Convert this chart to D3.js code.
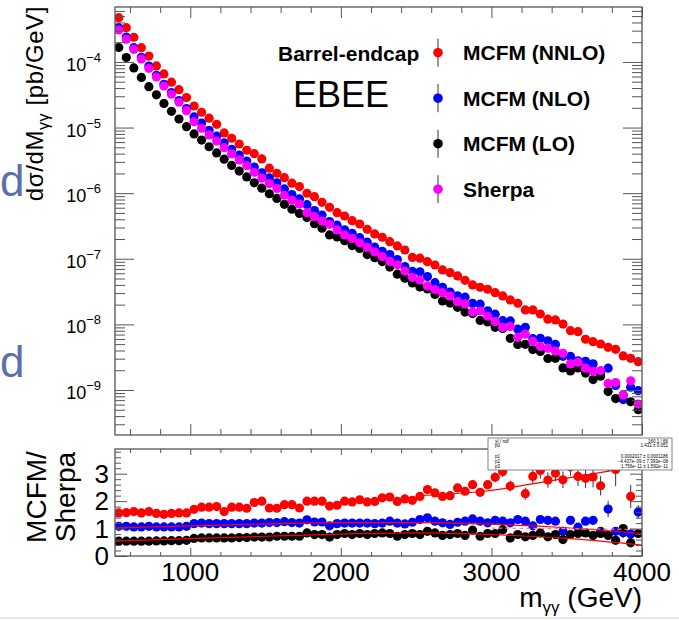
<!DOCTYPE html>
<html>
<head>
<meta charset="utf-8">
<script src="https://cdn.jsdelivr.net/npm/d3@7"></script>
<style>
  body { margin: 0; background: #ffffff; }
  svg { display: block; font-family: "Liberation Sans", Arial, Helvetica, sans-serif; }
</style>
</head>
<body>
<div class="chart"></div>
<script>
// bin centres in GeV (50 GeV bins from 500 to 4000)
var binCentres = [525, 575, 625, 675, 725, 775, 825, 875, 925, 975,
  1025, 1075, 1125, 1175, 1225, 1275, 1325, 1375, 1425, 1475,
  1525, 1575, 1625, 1675, 1725, 1775, 1825, 1875, 1925, 1975,
  2025, 2075, 2125, 2175, 2225, 2275, 2325, 2375, 2425, 2475,
  2525, 2575, 2625, 2675, 2725, 2775, 2825, 2875, 2925, 2975,
  3025, 3075, 3125, 3175, 3225, 3275, 3325, 3375, 3425, 3475,
  3525, 3575, 3625, 3675, 3725, 3775, 3825, 3875, 3925, 3975];

// dsigma/dM [pb/GeV]
var xsecNNLO = [4.73e-4, 3.33e-4, 2.38e-4, 1.65e-4, 1.23e-4, 8.7e-5, 6.56e-5, 4.91e-5, 3.78e-5, 2.86e-5,
  2.13e-5, 1.71e-5, 1.39e-5, 1.12e-5, 8.28e-6, 6.87e-6, 5.62e-6, 4.51e-6, 4.0e-6, 3.32e-6,
  2.4e-6, 2.01e-6, 1.72e-6, 1.42e-6, 1.26e-6, 9.97e-7, 8.85e-7, 7.26e-7, 6.09e-7, 5.05e-7,
  4.49e-7, 3.81e-7, 3.39e-7, 2.82e-7, 2.39e-7, 2.13e-7, 1.82e-7, 1.57e-7, 1.36e-7, 1.05e-7,
  1.02e-7, 9.04e-8, 8.04e-8, 6.75e-8, 6.14e-8, 5.47e-8, 4.7e-8, 3.99e-8, 3.68e-8, 3.43e-8,
  3.04e-8, 2.71e-8, 2.36e-8, 2.1e-8, 1.66e-8, 1.66e-8, 1.44e-8, 1.2e-8, 1.17e-8, 1.01e-8,
  8.02e-9, 7.74e-9, 5.93e-9, 5.45e-9, 5.02e-9, 4.47e-9, 4.17e-9, 3.3e-9, 3.04e-9, 2.7e-9];
var xsecNLO = [3.33e-4, 2.4e-4, 1.65e-4, 1.18e-4, 8.64e-5, 6.25e-5, 4.56e-5, 3.41e-5, 2.58e-5, 1.95e-5,
  1.45e-5, 1.17e-5, 9.1e-6, 7.38e-6, 5.83e-6, 4.67e-6, 3.79e-6, 3.09e-6, 2.5e-6, 2.04e-6,
  1.71e-6, 1.44e-6, 1.16e-6, 9.52e-7, 8.16e-7, 6.67e-7, 5.43e-7, 4.65e-7, 3.69e-7, 3.25e-7,
  2.77e-7, 2.45e-7, 2.1e-7, 1.79e-7, 1.5e-7, 1.3e-7, 1.16e-7, 9.72e-8, 7.6e-8, 6.42e-8,
  6.32e-8, 5.35e-8, 4.32e-8, 3.68e-8, 3.11e-8, 2.73e-8, 2.6e-8, 2.09e-8, 2.03e-8, 1.61e-8,
  1.43e-8, 1.14e-8, 1.13e-8, 8.45e-9, 9.02e-9, 6.05e-9, 6.12e-9, 5.62e-9, 4.95e-9, 3.26e-9,
  3.25e-9, 2.78e-9, 2.73e-9, 2.5e-9, 1.78e-9, 2.15e-9, 1.17e-9, 7.14e-10, 1.1e-9, 9.76e-10];
var xsecLO = [1.66e-4, 1.17e-4, 8.1e-5, 5.8e-5, 4.2e-5, 3.15e-5, 2.33e-5, 1.77e-5, 1.35e-5, 1.03e-5,
  8.0e-6, 6.45e-6, 5.1e-6, 4.1e-6, 3.3e-6, 2.65e-6, 2.17e-6, 1.77e-6, 1.44e-6, 1.19e-6,
  9.8e-7, 8.3e-7, 6.75e-7, 5.7e-7, 4.9e-7, 4.24e-7, 3.42e-7, 2.93e-7, 2.31e-7, 2.15e-7,
  1.89e-7, 1.59e-7, 1.44e-7, 1.16e-7, 1.04e-7, 9.07e-8, 7.46e-8, 5.83e-8, 5.07e-8, 4.28e-8,
  3.71e-8, 3.47e-8, 2.86e-8, 2.28e-8, 2.11e-8, 1.82e-8, 1.54e-8, 1.46e-8, 1.15e-8, 1.09e-8,
  9.02e-9, 8.64e-9, 6.14e-9, 4.95e-9, 4.97e-9, 4.13e-9, 3.86e-9, 3.02e-9, 3.04e-9, 2.17e-9,
  1.95e-9, 2.17e-9, 1.81e-9, 1.44e-9, 1.62e-9, 9.45e-10, 7.41e-10, 8.4e-10, 6.62e-10, 5.0e-10];
var xsecSherpa = [3.08e-4, 2.22e-4, 1.56e-4, 1.11e-4, 8.0e-5, 5.9e-5, 4.3e-5, 3.22e-5, 2.43e-5, 1.81e-5,
  1.23e-5, 9.76e-6, 7.71e-6, 6.25e-6, 4.94e-6, 3.96e-6, 3.21e-6, 2.62e-6, 2.08e-6, 1.7e-6,
  1.4e-6, 1.18e-6, 9.3e-7, 7.8e-7, 6.8e-7, 5.05e-7, 4.38e-7, 3.75e-7, 3.35e-7, 2.75e-7,
  2.31e-7, 2.04e-7, 1.75e-7, 1.49e-7, 1.27e-7, 1.08e-7, 9.1e-8, 8.1e-8, 6.5e-8, 5.22e-8,
  4.75e-8, 3.85e-8, 3.4e-8, 3.04e-8, 2.7e-8, 2.22e-8, 2.05e-8, 1.55e-8, 1.6e-8, 1.33e-8,
  1.1e-8, 9.0e-9, 9.3e-9, 6.35e-9, 7.1e-9, 5.5e-9, 4.6e-9, 4.32e-9, 3.9e-9, 3.62e-9,
  2.5e-9, 2.65e-9, 2.15e-9, 1.92e-9, 1.98e-9, 1.26e-9, 1.3e-9, 8.4e-10, 1.38e-9, 6.1e-10];

// MCFM / Sherpa ratios and their errors
var ratioNNLO = [1.57, 1.58, 1.62, 1.57, 1.62, 1.55, 1.52, 1.55, 1.57, 1.57,
  1.7, 1.78, 1.78, 1.8, 1.62, 1.78, 1.78, 1.74, 1.95, 2.0,
  1.75, 1.74, 1.87, 1.87, 1.75, 2.0, 2.0, 2.0, 1.82, 1.85,
  2.0, 1.97, 2.05, 1.97, 1.99, 2.12, 2.15, 1.99, 2.08, 2.03,
  2.17, 2.42, 2.3, 2.17, 2.2, 2.48, 2.36, 2.6, 2.32, 2.6,
  2.87, 3.08, 2.55, 3.4, 2.27, 2.9, 3.12, 2.77, 3.02, 2.78,
  3.25, 2.9, 2.83, 2.88, 2.56, 3.5, 3.15, 3.6, 2.17, 4.5];
var ratioNLO = [1.08, 1.08, 1.06, 1.06, 1.08, 1.06, 1.06, 1.06, 1.06, 1.08,
  1.18, 1.2, 1.18, 1.18, 1.18, 1.18, 1.18, 1.18, 1.2, 1.2,
  1.22, 1.22, 1.25, 1.22, 1.2, 1.32, 1.24, 1.24, 1.1, 1.18,
  1.2, 1.2, 1.2, 1.2, 1.18, 1.2, 1.27, 1.2, 1.17, 1.23,
  1.33, 1.39, 1.27, 1.21, 1.15, 1.23, 1.27, 1.35, 1.27, 1.21,
  1.3, 1.27, 1.21, 1.33, 1.27, 1.1, 1.33, 1.3, 1.27, 0.9,
  1.3, 1.05, 1.27, 1.3, 0.9, 1.71, 0.9, 0.85, 0.8, 1.6];
var ratioLO = [0.54, 0.54, 0.54, 0.54, 0.54, 0.55, 0.55, 0.56, 0.56, 0.57,
  0.64, 0.66, 0.66, 0.66, 0.66, 0.66, 0.67, 0.67, 0.69, 0.69,
  0.69, 0.72, 0.72, 0.72, 0.72, 0.84, 0.78, 0.78, 0.69, 0.78,
  0.82, 0.78, 0.82, 0.78, 0.82, 0.84, 0.82, 0.72, 0.78, 0.82,
  0.78, 0.9, 0.84, 0.75, 0.78, 0.82, 0.75, 0.94, 0.72, 0.82,
  0.82, 0.96, 0.66, 0.78, 0.7, 0.75, 0.84, 0.7, 0.78, 0.6,
  0.78, 0.82, 0.84, 0.75, 0.82, 0.75, 0.57, 1.0, 0.48, 0.82];
var errNNLO = [0.03, 0.03, 0.03, 0.03, 0.03, 0.03, 0.03, 0.03, 0.03, 0.03,
  0.03, 0.03, 0.03, 0.03, 0.03, 0.03, 0.03, 0.03, 0.03, 0.03,
  0.04, 0.04, 0.04, 0.04, 0.04, 0.04, 0.04, 0.04, 0.04, 0.04,
  0.05, 0.05, 0.05, 0.05, 0.05, 0.05, 0.05, 0.05, 0.05, 0.05,
  0.08, 0.08, 0.08, 0.1, 0.1, 0.12, 0.12, 0.15, 0.15, 0.15,
  0.18, 0.2, 0.2, 0.25, 0.22, 0.28, 0.3, 0.28, 0.3, 0.3,
  0.32, 0.35, 0.35, 0.38, 0.35, 0.42, 0.6, 0.45, 0.42, 0.5];
var errNLO = [0.02, 0.02, 0.02, 0.02, 0.02, 0.02, 0.02, 0.02, 0.02, 0.02,
  0.02, 0.02, 0.02, 0.02, 0.02, 0.02, 0.02, 0.02, 0.02, 0.02,
  0.02, 0.02, 0.02, 0.02, 0.02, 0.02, 0.02, 0.02, 0.02, 0.02,
  0.02, 0.02, 0.02, 0.02, 0.02, 0.02, 0.02, 0.02, 0.02, 0.02,
  0.04, 0.04, 0.04, 0.04, 0.04, 0.04, 0.04, 0.04, 0.04, 0.04,
  0.06, 0.06, 0.06, 0.06, 0.06, 0.06, 0.06, 0.06, 0.06, 0.06,
  0.08, 0.1, 0.1, 0.1, 0.12, 0.3, 0.15, 0.2, 0.2, 0.25];
var errLO = [0.02, 0.02, 0.02, 0.02, 0.02, 0.02, 0.02, 0.02, 0.02, 0.02,
  0.02, 0.02, 0.02, 0.02, 0.02, 0.02, 0.02, 0.02, 0.02, 0.02,
  0.02, 0.02, 0.02, 0.02, 0.02, 0.02, 0.02, 0.02, 0.02, 0.02,
  0.02, 0.02, 0.02, 0.02, 0.02, 0.02, 0.02, 0.02, 0.02, 0.02,
  0.03, 0.03, 0.03, 0.03, 0.03, 0.03, 0.03, 0.03, 0.03, 0.03,
  0.05, 0.05, 0.05, 0.05, 0.05, 0.05, 0.05, 0.05, 0.05, 0.05,
  0.06, 0.06, 0.07, 0.07, 0.08, 0.1, 0.1, 0.12, 0.12, 0.14];

// fitted curves in the ratio pad, [mass, ratio]
var fitNNLO = [[2500, 2.2], [2950, 2.36], [3400, 2.75], [3900, 3.2]];
var fitNLO = [[500, 1.02], [1000, 1.1], [1500, 1.17], [2000, 1.22], [2500, 1.22], [3000, 1.16], [3500, 1.03], [4000, 0.82]];
var fitLO = [[500, 0.54], [1000, 0.63], [1500, 0.72], [2000, 0.8], [2500, 0.84], [3000, 0.78], [3500, 0.64], [4000, 0.4]];
var fitDashed = [[3000, 1.02], [4000, 0.97]];

var legendNames = ["MCFM (NNLO)", "MCFM (NLO)", "MCFM (LO)", "Sherpa"];
var legendColors = ["#ff0000", "#0000ff", "#000000", "#ff00ff"];

var statsRows = [["\u03c7\u00b2 / ndf", "160.1 / 66"], ["p0", "1.431 \u00b1 0.051"], ["p1", "0.0002017 \u00b1 0.0001186"],
  ["p2", "\u22124.437e\u221209 \u00b1 7.393e\u221208"], ["p3", "1.756e\u221211 \u00b1 1.592e\u221211"]];

var svgWidth = 679;
var svgHeight = 620;
var frameColor = "#555555";

var left = 115, right = 642;
var topPad = {top: 7, bottom: 435};
var ratioPad = {top: 449, bottom: 556};

var svg = d3.select(".chart")
  .append("svg")
  .attr("width", svgWidth)
  .attr("height", svgHeight);

var xScale = d3.scaleLinear().domain([500, 4000]).range([left, right]);
var yTop = d3.scaleLog().domain([2.06e-10, 6.88e-4]).range([topPad.bottom, topPad.top]);
var yRatio = d3.scaleLinear().domain([0, 3.9]).range([ratioPad.bottom, ratioPad.top]);

var defs = svg.append("defs");
defs.append("clipPath").attr("id", "clipTop").append("rect")
  .attr("x", left).attr("y", topPad.top).attr("width", right - left).attr("height", topPad.bottom - topPad.top);
defs.append("clipPath").attr("id", "clipRatio").append("rect")
  .attr("x", left).attr("y", ratioPad.top).attr("width", right - left).attr("height", ratioPad.bottom - ratioPad.top);

// slide leftovers at the left edge and bottom
svg.selectAll(".slideD")
  .data([196, 377])
  .enter()
  .append("text")
  .attr("x", 0)
  .attr("y", d => d)
  .attr("fill", "#5b6fad")
  .style("font-size", "44px")
  .text("d");
svg.append("line")
  .attr("x1", 0).attr("x2", svgWidth).attr("y1", 618).attr("y2", 618)
  .attr("stroke", "#e6e6e6").attr("stroke-width", 2);

/* Top pad: spectra */
var topSeries = [
  {values: xsecNNLO, color: legendColors[0]},
  {values: xsecNLO, color: legendColors[1]},
  {values: xsecLO, color: legendColors[2]},
  {values: xsecSherpa, color: legendColors[3]}
];
var topGroup = svg.append("g").attr("clip-path", "url(#clipTop)");
topSeries.forEach(function(s) {
  topGroup.append("g")
    .selectAll("circle")
    .data(s.values)
    .enter()
    .append("circle")
    .attr("cx", (d, i) => xScale(binCentres[i]))
    .attr("cy", d => yTop(d))
    .attr("r", 4.6)
    .attr("fill", s.color);
});

/* Ratio pad */
var ratioSeries = [
  {values: ratioNNLO, errors: errNNLO, color: legendColors[0]},
  {values: ratioNLO, errors: errNLO, color: legendColors[1]},
  {values: ratioLO, errors: errLO, color: legendColors[2]}
];
var ratioGroup = svg.append("g").attr("clip-path", "url(#clipRatio)");
ratioSeries.forEach(function(s) {
  var g = ratioGroup.append("g");
  g.selectAll("line")
    .data(s.values)
    .enter()
    .append("line")
    .attr("x1", (d, i) => xScale(binCentres[i]))
    .attr("x2", (d, i) => xScale(binCentres[i]))
    .attr("y1", (d, i) => yRatio(d - s.errors[i]))
    .attr("y2", (d, i) => yRatio(d + s.errors[i]))
    .attr("stroke", "#333333")
    .attr("stroke-width", 1);
  g.selectAll("circle")
    .data(s.values)
    .enter()
    .append("circle")
    .attr("cx", (d, i) => xScale(binCentres[i]))
    .attr("cy", d => yRatio(d))
    .attr("r", 4.6)
    .attr("fill", s.color);
});

var fitLine = d3.line()
  .x(d => xScale(d[0]))
  .y(d => yRatio(d[1]))
  .curve(d3.curveMonotoneX);
[fitNNLO, fitNLO, fitLO].forEach(function(f) {
  ratioGroup.append("path")
    .attr("d", fitLine(f))
    .attr("fill", "none")
    .attr("stroke", "#ff0000")
    .attr("stroke-width", 1.2);
});
ratioGroup.append("path")
  .attr("d", fitLine(fitDashed))
  .attr("fill", "none")
  .attr("stroke", "#ff8080")
  .attr("stroke-width", 1.2)
  .attr("stroke-dasharray", "4,3");

/* Ticks */
function tickAxis(axisFn, scale, values, size, transform) {
  var g = svg.append("g")
    .attr("transform", transform)
    .call(axisFn(scale).tickValues(values).tickSize(size).tickFormat(""));
  g.select(".domain").remove();
  g.selectAll("line").attr("stroke", frameColor).attr("stroke-width", 1);
  return g;
}

var logMajor = [1e-4, 1e-5, 1e-6, 1e-7, 1e-8, 1e-9];
var logMinor = [];
for (var e = -10; e <= -4; e++) {
  for (var m = 2; m <= 9; m++) {
    var v = m * Math.pow(10, e);
    if (v > yTop.domain()[0] && v < yTop.domain()[1]) logMinor.push(v);
  }
}
var xMajor = [1000, 2000, 3000, 4000];
var xMinor = [];
for (var xv = 600; xv < 4000; xv += 200) {
  if (xv % 1000 !== 0) xMinor.push(xv);
}
var ratioMajor = [0, 1, 2, 3];
var ratioMinor = [];
for (var k = 1; k <= 19; k++) {
  if (k % 5 !== 0) ratioMinor.push(k * 0.2);
}

tickAxis(d3.axisLeft, yTop, logMajor, -19, `translate(${left},0)`);
tickAxis(d3.axisLeft, yTop, logMinor, -10, `translate(${left},0)`);
tickAxis(d3.axisRight, yTop, logMajor, -19, `translate(${right},0)`);
tickAxis(d3.axisRight, yTop, logMinor, -10, `translate(${right},0)`);
tickAxis(d3.axisBottom, xScale, xMajor, -11, `translate(0,${topPad.bottom})`);
tickAxis(d3.axisBottom, xScale, xMinor, -6, `translate(0,${topPad.bottom})`);
tickAxis(d3.axisTop, xScale, xMajor, -11, `translate(0,${topPad.top})`);
tickAxis(d3.axisTop, xScale, xMinor, -6, `translate(0,${topPad.top})`);

tickAxis(d3.axisLeft, yRatio, ratioMajor, -12, `translate(${left},0)`);
tickAxis(d3.axisLeft, yRatio, ratioMinor, -6, `translate(${left},0)`);
tickAxis(d3.axisRight, yRatio, ratioMajor, -12, `translate(${right},0)`);
tickAxis(d3.axisRight, yRatio, ratioMinor, -6, `translate(${right},0)`);
tickAxis(d3.axisBottom, xScale, xMajor, -8, `translate(0,${ratioPad.bottom})`);
tickAxis(d3.axisBottom, xScale, xMinor, -4, `translate(0,${ratioPad.bottom})`);
tickAxis(d3.axisTop, xScale, xMajor, -6, `translate(0,${ratioPad.top})`);
tickAxis(d3.axisTop, xScale, xMinor, -4, `translate(0,${ratioPad.top})`);

// frames
[topPad, ratioPad].forEach(function(p) {
  svg.append("rect")
    .attr("x", left).attr("y", p.top)
    .attr("width", right - left).attr("height", p.bottom - p.top)
    .attr("fill", "none")
    .attr("stroke", frameColor)
    .attr("stroke-width", 1.3);
});

/* Tick labels */
var logLabels = svg.selectAll(".logLabel")
  .data(logMajor)
  .enter()
  .append("text")
  .attr("class", "logLabel")
  .attr("x", 101)
  .attr("y", d => yTop(d) + 9)
  .attr("text-anchor", "end")
  .attr("fill", "#000");
logLabels.append("tspan").style("font-size", "18px").text("10");
logLabels.append("tspan")
  .attr("dy", -9)
  .style("font-size", "13px")
  .text(d => "\u2212" + Math.round(-Math.log10(d)));

svg.selectAll(".ratioLabel")
  .data(ratioMajor)
  .enter()
  .append("text")
  .attr("x", 109)
  .attr("y", d => yRatio(d) + 9)
  .attr("text-anchor", "end")
  .style("font-size", "26px")
  .text(d => d);

svg.selectAll(".xLabel")
  .data(xMajor)
  .enter()
  .append("text")
  .attr("x", d => xScale(d))
  .attr("y", 581)
  .attr("text-anchor", "middle")
  .style("font-size", "26px")
  .text(d => d);

/* Axis titles */
var yTitle = svg.append("text")
  .attr("transform", "translate(43, 6) rotate(-90)")
  .attr("text-anchor", "end")
  .style("font-size", "24px")
  .style("letter-spacing", "0.6px");
yTitle.append("tspan").text("d\u03c3/dM");
yTitle.append("tspan").attr("dy", 6).style("font-size", "16px").text("\u03b3\u03b3");
yTitle.append("tspan").attr("dy", -6).text(" [pb/GeV]");

var rTitle = svg.append("g").attr("transform", "translate(0, 497)");
rTitle.append("text")
  .attr("transform", "translate(46, 0) rotate(-90)")
  .attr("text-anchor", "middle")
  .style("font-size", "28px")
  .text("MCFM/");
rTitle.append("text")
  .attr("transform", "translate(75, 0) rotate(-90)")
  .attr("text-anchor", "middle")
  .style("font-size", "28px")
  .text("Sherpa");

var xTitle = svg.append("text")
  .attr("x", right)
  .attr("y", 607)
  .attr("text-anchor", "end")
  .style("font-size", "28px");
xTitle.append("tspan").text("m");
xTitle.append("tspan").attr("dy", 6).style("font-size", "17px").text("\u03b3\u03b3");
xTitle.append("tspan").attr("dy", -6).text(" (GeV)");

/* Legend */
svg.append("text")
  .attr("x", 278).attr("y", 61)
  .style("font-size", "21px").style("font-weight", "bold")
  .text("Barrel-endcap");
svg.append("text")
  .attr("x", 293).attr("y", 107)
  .style("font-size", "36px")
  .text("EBEE");

var legend = svg.selectAll(".legendItem")
  .data(legendNames)
  .enter()
  .append("g")
  .attr("transform", (d, i) => `translate(0, ${52.7 + i * 45.5})`);
legend.append("line")
  .attr("x1", 438).attr("x2", 438).attr("y1", -14).attr("y2", 14)
  .attr("stroke", "#333").attr("stroke-width", 1);
legend.append("circle")
  .attr("cx", 438).attr("cy", 0).attr("r", 4.8)
  .attr("fill", (d, i) => legendColors[i]);
legend.append("text")
  .attr("x", 463).attr("y", 7.5)
  .style("font-size", "21px").style("font-weight", "bold")
  .text(d => d);

/* Fit statistics box */
var stats = svg.append("g");
stats.append("rect")
  .attr("x", 488).attr("y", 438).attr("width", 184).attr("height", 32)
  .attr("fill", "#fff").attr("stroke", "#666").attr("stroke-width", 0.8);
var statsY = [442.5, 447, 457.5, 462.5, 467.5];
statsRows.forEach(function(r, i) {
  stats.append("text").attr("x", 495).attr("y", statsY[i]).style("font-size", "4.5px").text(r[0]);
  stats.append("text").attr("x", 668).attr("y", statsY[i]).attr("text-anchor", "end").style("font-size", "4.5px").text(r[1]);
});
</script>
</body>
</html>
